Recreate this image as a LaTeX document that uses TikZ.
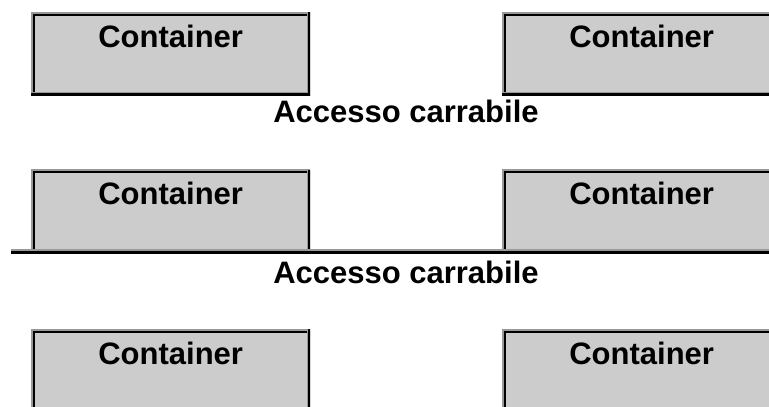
\documentclass[tikz,border=0pt]{standalone}
\usepackage{fontspec}
\setmainfont{Liberation Sans}
\definecolor{boxgray}{HTML}{CCCCCC}
\definecolor{edgegray}{HTML}{999999}
\tikzset{
  container/.style={rectangle, fill=boxgray, inner sep=0pt, minimum width=279pt,
    text height=35pt, text depth=48.5pt, font=\fontsize{31}{36}\selectfont\bfseries,
    path picture={
      \draw[black, line width=7pt] (path picture bounding box.south west) |- (path picture bounding box.north east);
      \draw[edgegray, line width=3pt] (path picture bounding box.south west) |- (path picture bounding box.north east);
      \draw[edgegray, line width=7pt] (path picture bounding box.south west) -| (path picture bounding box.north east);
      \draw[black, line width=5pt] (path picture bounding box.south west) -| (path picture bounding box.north east);
    }},
  road/.style={anchor=base, font=\fontsize{31}{36}\selectfont\bfseries},
}
\begin{document}
\begin{tikzpicture}[x=1pt, y=-1pt]
\useasboundingbox (0,0) rectangle (769,407);
\clip (0,0) rectangle (769,407);

\node[container, anchor=north west] (c1) at (31,12) {Container};
\node[container, anchor=north west] (c2) at (502,12) {Container};
\node[road] (r1) at (406,122.5) {Accesso carrabile};

\coordinate (g1) at (11,250);
\coordinate (g2) at (769,250);
\coordinate (k1) at (11,252.5);
\coordinate (k2) at (769,252.5);
\node[container, anchor=north west] (c3) at (31,169.5) {Container};
\node[container, anchor=north west] (c4) at (502,169.5) {Container};
\draw[edgegray, line width=2pt] (g1) -- (g2);
\draw[black, line width=3pt] (k1) -- (k2);
\node[road] (r2) at (406,283) {Accesso carrabile};

\node[container, anchor=north west] (c5) at (31,329) {Container};
\node[container, anchor=north west] (c6) at (502,329) {Container};
\end{tikzpicture}
\end{document}
